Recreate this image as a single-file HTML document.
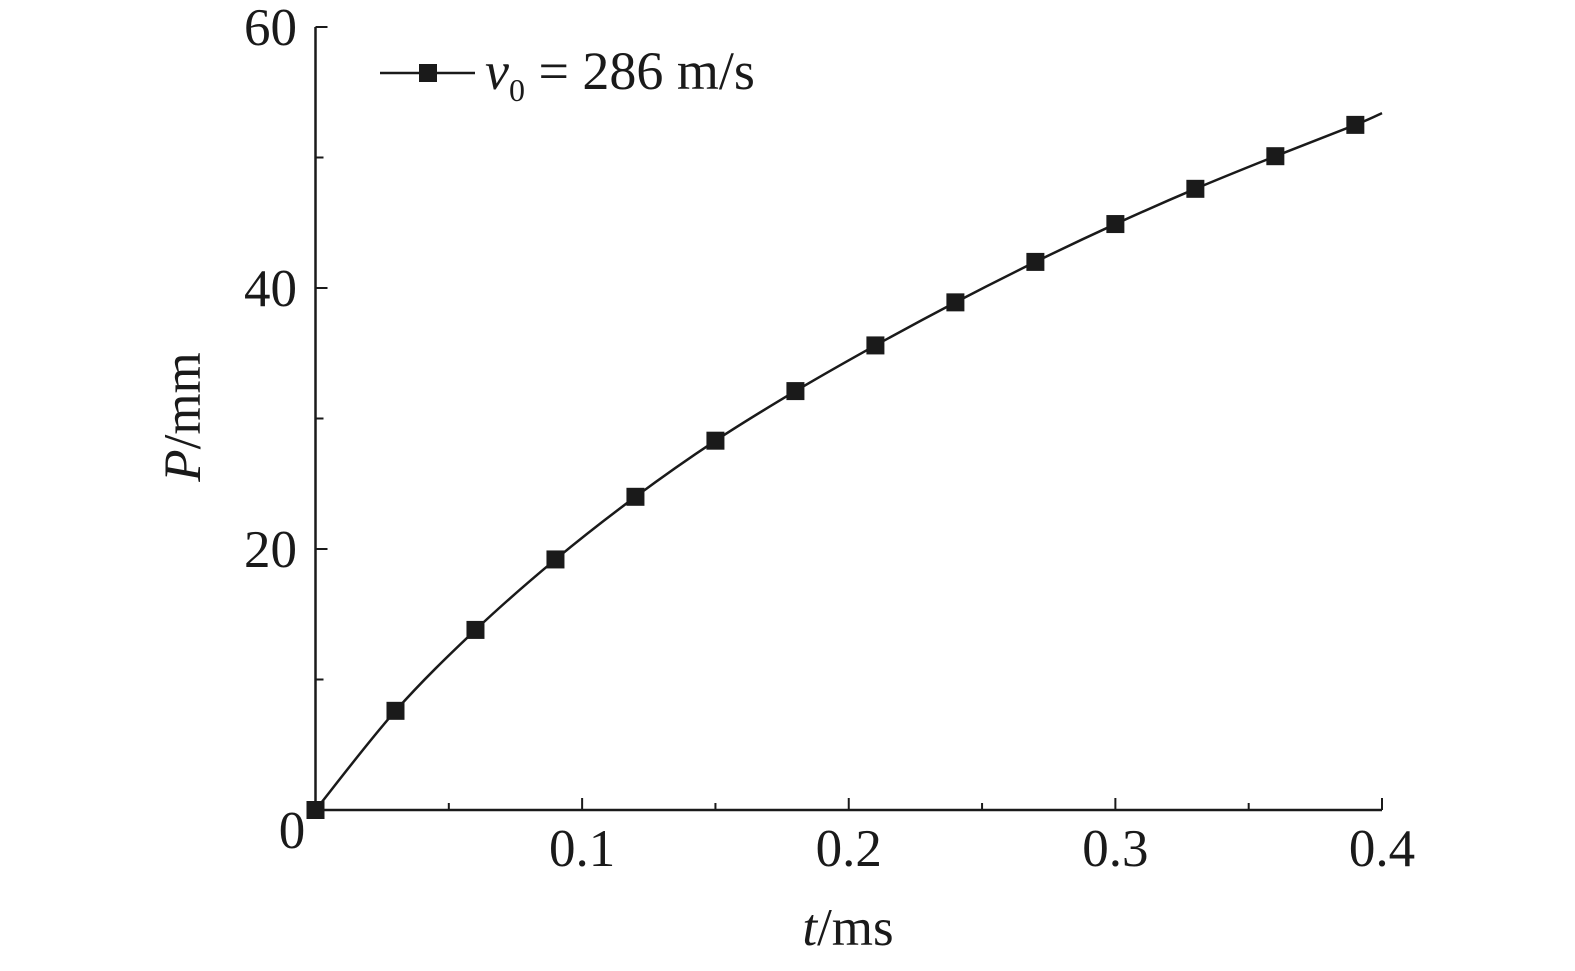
<!DOCTYPE html>
<html><head><meta charset="utf-8"><style>
html,body{margin:0;padding:0;background:#fff;}
svg text{font-family:"Liberation Serif",serif;fill:#1a1a1a;}
</style></head><body>
<svg id="chart" width="1575" height="966" viewBox="0 0 1575 966"></svg>
<script>
const xValues=[0,0.03,0.06,0.09,0.12,0.15,0.18,0.21,0.24,0.27,0.30,0.33,0.36,0.39];
const yValues=[0,7.6,13.8,19.2,24.0,28.3,32.1,35.6,38.9,42.0,44.9,47.6,50.1,52.5];
const lineEndX=0.4, lineEndY=53.4;
const xTicks=[0.1,0.2,0.3,0.4];
const xTickLabels=["0.1","0.2","0.3","0.4"];
const xMinor=[0.05,0.15,0.25,0.35];
const yTicks=[20,40,60];
const yTickLabels=["20","40","60"];
const yMinor=[10,30,50];
const NS="http://www.w3.org/2000/svg";
const svg=document.getElementById('chart');
const X0=315.5,X1=1382,Y0=810,Y1=27;
const sx=v=>X0+(X1-X0)*v/0.4;
const sy=v=>Y0-(Y0-Y1)*v/60;
function mk(tag,attrs,parent){const e=document.createElementNS(NS,tag);for(const k in attrs)e.setAttribute(k,attrs[k]);(parent||svg).appendChild(e);return e;}
let e;
e=mk('line',{x1:X0,y1:Y0,x2:X1,y2:Y0,stroke:'#1a1a1a','stroke-width':2.5});


e=mk('line',{x1:X0,y1:Y0,x2:X0,y2:Y1,stroke:'#1a1a1a','stroke-width':2.5});


xTicks.forEach((v,i)=>{
 e=mk('line',{x1:sx(v),y1:Y0,x2:sx(v),y2:Y0-12,stroke:'#1a1a1a','stroke-width':2});
 
 
 e=mk('text',{x:sx(v),y:866,'font-size':53,'text-anchor':'middle'});e.textContent=xTickLabels[i];
 
 
});
xMinor.forEach(v=>{
 e=mk('line',{x1:sx(v),y1:Y0,x2:sx(v),y2:Y0-7,stroke:'#1a1a1a','stroke-width':2});
 
 
});
yTicks.forEach((v,i)=>{
 e=mk('line',{x1:X0,y1:sy(v),x2:X0+12,y2:sy(v),stroke:'#1a1a1a','stroke-width':2});
 
 
 e=mk('text',{x:297,y:sy(v)+18,'font-size':53,'text-anchor':'end'});e.textContent=yTickLabels[i];
 
 
});
yMinor.forEach(v=>{
 e=mk('line',{x1:X0,y1:sy(v),x2:X0+8,y2:sy(v),stroke:'#1a1a1a','stroke-width':2});
 
 
});
e=mk('text',{x:292,y:848,'font-size':53,'text-anchor':'middle'});e.textContent='0';


e=mk('text',{x:848,y:945,'font-size':53,'text-anchor':'middle'});
e.innerHTML='<tspan font-style="italic">t</tspan>/ms';


e=mk('text',{x:0,y:0,'font-size':53,'text-anchor':'middle',transform:'translate(200,417) rotate(-90)'});
e.innerHTML='<tspan font-style="italic">P</tspan>/mm';


const P=xValues.map((v,i)=>[sx(v),sy(yValues[i])]);P.push([sx(lineEndX),sy(lineEndY)]);
let d='M'+P[0][0]+','+P[0][1];
for(let i=0;i<P.length-1;i++){
 const p0=P[Math.max(0,i-1)],p1=P[i],p2=P[i+1],p3=P[Math.min(P.length-1,i+2)];
 const c1=[p1[0]+(p2[0]-p0[0])/6,p1[1]+(p2[1]-p0[1])/6];
 const c2=[p2[0]-(p3[0]-p1[0])/6,p2[1]-(p3[1]-p1[1])/6];
 d+=' C'+c1[0]+','+c1[1]+' '+c2[0]+','+c2[1]+' '+p2[0]+','+p2[1];
}
e=mk('path',{d:d,fill:'none',stroke:'#1a1a1a','stroke-width':2.5});


xValues.forEach((v,i)=>{
 e=mk('rect',{x:sx(v)-9,y:sy(yValues[i])-9,width:18,height:18,fill:'#1a1a1a'});
 
 
});
e=mk('line',{x1:380,y1:73,x2:475,y2:73,stroke:'#1a1a1a','stroke-width':2.5});


e=mk('rect',{x:419,y:64,width:18,height:18,fill:'#1a1a1a'});


e=mk('text',{x:485,y:89,'font-size':54});
e.innerHTML='<tspan font-style="italic">v</tspan><tspan font-size="32" dy="12">0</tspan><tspan dy="-12"> = 286 m/s</tspan>';


</script>
</body></html>
